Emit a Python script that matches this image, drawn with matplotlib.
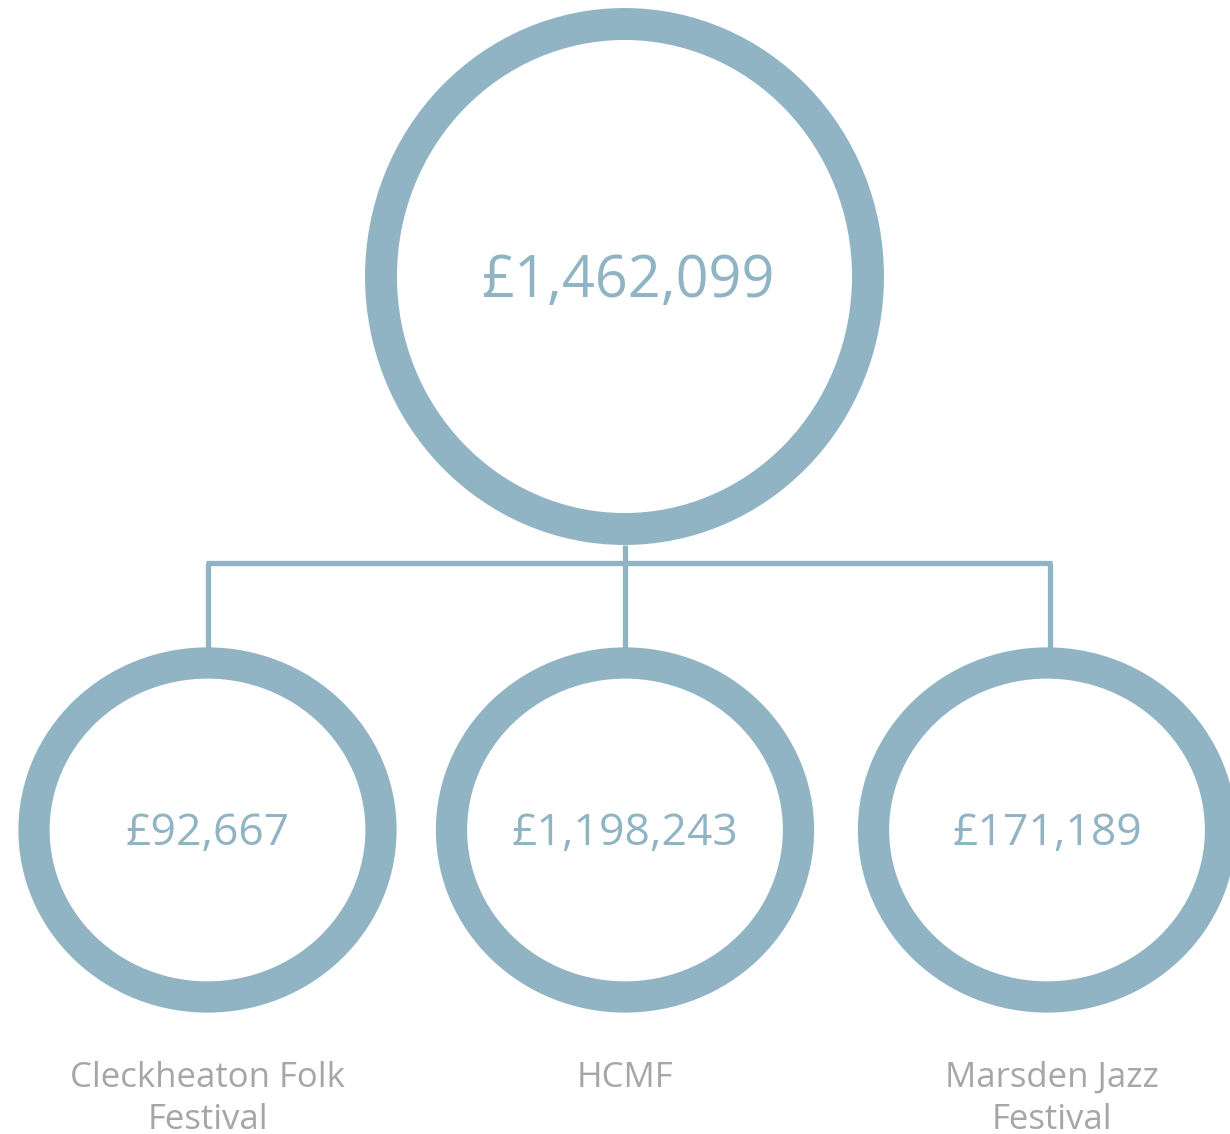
import matplotlib.pyplot as plt
from matplotlib.patches import Ellipse

# data
total_label = "£1,462,099"
festivals = ["Cleckheaton Folk\nFestival", "HCMF", "Marsden Jazz\nFestival"]
amounts = ["£92,667", "£1,198,243", "£171,189"]

ring = "#90b4c4"
grey = "#a6a6a6"
plt.rcParams['font.family'] = ['Open Sans', 'DejaVu Sans']

fig = plt.figure(figsize=(12.3, 11.34), dpi=100)
ax = fig.add_axes([0, 0, 1, 1])
ax.set_xlim(0, 1230)
ax.set_ylim(1134, 0)
ax.axis("off")

# top circle
top_x, top_y = 624.5, 276.5
ax.add_patch(Ellipse((top_x, top_y), 487, 505, fill=False, ec=ring, lw=23))
ax.text(top_x + 3, top_y + 5, total_label, ha="center", va="center",
        fontsize=41.5, color=ring)

# connectors
child_x = [207.5, 625, 1047]
bar_y = 563
ax.plot([top_x, top_x], [545, bar_y], color=ring, lw=3.8, solid_capstyle="butt")
ax.plot([child_x[0] - 1.5, child_x[-1] + 4.5], [bar_y, bar_y], color=ring, lw=3.8,
        solid_capstyle="butt")
for x in child_x:
    xx = x + 3 if x == child_x[-1] else x
    ax.plot([xx, xx], [bar_y, 650], color=ring, lw=3.8, solid_capstyle="butt")

# child circles
for x, amt, name in zip(child_x, amounts, festivals):
    ax.add_patch(Ellipse((x, 830), 347, 334, fill=False, ec=ring, lw=22.5))
    ax.text(x, 834, amt, ha="center", va="center", fontsize=32, color=ring)
    lx = x + 5 if name.startswith("Marsden") else x
    ax.text(lx, 1061, name, ha="center", va="top", fontsize=25, color=grey,
            linespacing=1.3)

plt.savefig("out.png", dpi=100)
